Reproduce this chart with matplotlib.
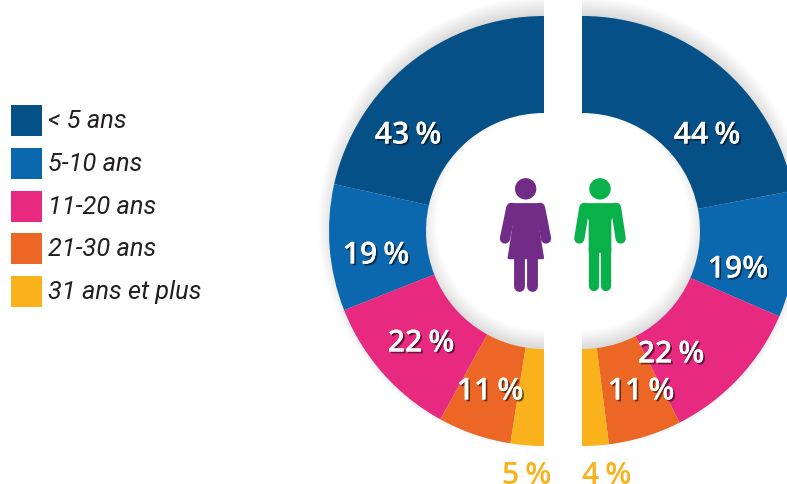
import matplotlib
matplotlib.use('Agg')
import numpy as np
import matplotlib.pyplot as plt
import matplotlib.patheffects as pe
from matplotlib.patches import Wedge, Rectangle, Circle, Polygon

# Valeurs
categories = ['< 5 ans', '5-10 ans', '11-20 ans', '21-30 ans', '31 ans et plus']
femmes = [43, 19, 22, 11, 5]
hommes = [44, 19, 22, 11, 4]
labels_femmes = ['43\u2009%', '19\u2009%', '22\u2009%', '11\u2009%', '5\u2009%']
labels_hommes = ['44\u2009%', '19%', '22\u2009%', '11\u2009%', '4\u2009%']
couleurs = ['#045087', '#0B68AE', '#E7297F', '#EC6726', '#F9B21B']

W, H = 787, 485
plt.rcParams['font.family'] = ['Open Sans', 'DejaVu Sans']

fig = plt.figure(figsize=(W / 100, H / 100), dpi=100)
ax = fig.add_axes([0, 0, 1, 1])

# y en pixels depuis le haut
def py(y):
    return H - y - 1.5

R, r = 215, 118
cx_f, cx_h, cy = 544, 582, py(230.5)

# Ombre floue sous les deux demi-anneaux, decalee vers le haut
for i in range(-8, 12):
    for cx, t1, t2 in [(cx_f, 90, 270), (cx_h, -90, 90)]:
        ax.add_patch(Wedge((cx, cy + 8), R + i, t1, t2, width=R - r + 2 * i,
                           color='black', alpha=0.008, lw=0, zorder=1))

ax.pie(np.array(femmes) / 200, colors=couleurs, startangle=90, counterclock=True,
       normalize=False, radius=R, center=(cx_f, cy), frame=True,
       wedgeprops=dict(width=R - r, linewidth=0, zorder=2))
ax.pie(np.array(hommes) / 200, colors=couleurs, startangle=90, counterclock=False,
       normalize=False, radius=R, center=(cx_h, cy), frame=True,
       wedgeprops=dict(width=R - r, linewidth=0, zorder=2))

ax.set_xlim(0, W)
ax.set_ylim(0, H)
ax.set_aspect('equal')
ax.axis('off')

# Etiquettes
ombre = [pe.withSimplePatchShadow(offset=(1.3, -1.3), shadow_rgbFace='black', alpha=0.55),
         pe.Normal()]
pos_femmes = [(408, 135), (376, 255), (421, 343), (490, 391)]
pos_hommes = [(707, 135), (738, 269), (671, 354), (641, 391)]
for lab, (x, y) in zip(labels_femmes, pos_femmes):
    ax.text(x, py(y), lab, color='white', fontsize=21.8, fontweight='semibold', ha='center',
            va='center', path_effects=ombre, zorder=5)
for lab, (x, y) in zip(labels_hommes, pos_hommes):
    ax.text(x, py(y), lab, color='white', fontsize=21.8, fontweight='semibold', ha='center',
            va='center', path_effects=ombre, zorder=5)
ax.text(527, py(483), labels_femmes[4], color=couleurs[4], fontsize=21.8, fontweight='semibold',
        ha='center', va='baseline', zorder=5)
ax.text(607, py(483), labels_hommes[4], color=couleurs[4], fontsize=21.8, fontweight='semibold',
        ha='center', va='baseline', zorder=5)

# Legende
legende_y = [104, 147, 190, 232, 275]
for cat, coul, y in zip(categories, couleurs, legende_y):
    ax.add_patch(Rectangle((11, py(y + 31)), 31, 31, color=coul, lw=0, zorder=3))
    ax.text(48, py(y + 15.5), cat, color='#231F20', fontsize=18.3, style='italic',
            family=['Roboto', 'DejaVu Sans'], fontweight='normal', ha='left', va='center')

# Pictogrammes
def z(x, y):
    # coordonnees du zoom x3 autour de (490, 170)
    return (490 + x / 3, py(170 + y / 3))

def membre(pts, coul, larg):
    xs, ys = zip(*[z(*p) for p in pts])
    ax.plot(xs, ys, color=coul, lw=larg, solid_capstyle='round', zorder=4)

violet, vert = '#702C86', '#0AB14B'

ax.add_patch(Circle(z(107, 55), 10.7, color=violet, lw=0, zorder=4))
ax.add_patch(Polygon([z(*p) for p in [(66, 102), (148, 102), (142, 165), (158, 262), (57, 262), (72, 165)]],
                     closed=True, fc=violet, ec=violet, lw=2, joinstyle='round', zorder=4))
membre([(64, 112), (45, 204)], violet, 7.4)
membre([(150, 112), (168, 204)], violet, 7.4)
membre([(88, 262), (88, 347)], violet, 7.8)
membre([(126, 262), (126, 347)], violet, 7.8)

ax.add_patch(Circle(z(330, 55), 10.7, color=vert, lw=0, zorder=4))
ax.add_patch(Polygon([z(*p) for p in [(280, 100), (380, 100), (362, 150), (362, 245), (298, 245), (298, 150)]],
                     closed=True, fc=vert, ec=vert, lw=1, joinstyle='round', zorder=4))
membre([(283, 112), (268, 204)], vert, 7.4)
membre([(378, 112), (392, 204)], vert, 7.4)
membre([(312.5, 240), (312.5, 347)], vert, 7.4)
membre([(347, 240), (347, 347)], vert, 7.4)

fig.savefig('out.png', dpi=100, facecolor='white')
